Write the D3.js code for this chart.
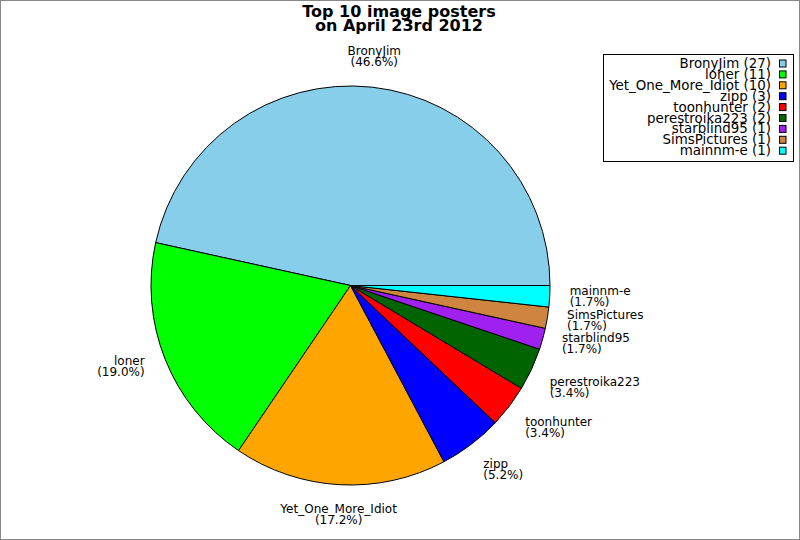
<!DOCTYPE html>
<html><head><meta charset="utf-8">
<script src="https://cdn.jsdelivr.net/npm/d3@7/dist/d3.min.js"></script>
<style>
html,body{margin:0;padding:0;background:#fff;}
svg{display:block;}
text{font-family:"DejaVu Sans",sans-serif;fill:#000;}
</style></head>
<body>
<svg id="chart" width="800" height="540"></svg>
<script>
const titleLines = ["Top 10 image posters", "on April 23rd 2012"];
const names = ["BronyJim","loner","Yet_One_More_Idiot","zipp","toonhunter","perestroika223","starblind95","SimsPictures","mainnm-e"];
const counts = [27,11,10,3,2,2,1,1,1];
const colors = ["#87ceeb","#00ff00","#ffa500","#0000ff","#ff0000","#006400","#a020f0","#cd853f","#00ffff"];

const svg = d3.select("#chart");
svg.append("rect").attr("x",0.5).attr("y",0.5).attr("width",799).attr("height",539)
  .attr("fill","#fff").attr("stroke","#888").attr("stroke-width",1);

// title
svg.append("text").attr("x",399).attr("y",16.5).attr("text-anchor","middle")
  .style("font-size","16px").style("font-weight","bold")
  .selectAll("tspan").data(titleLines).join("tspan")
  .attr("x",399).attr("dy",(d,i)=>i?14:0).text(d=>d);

const cx = 350.5, cy = 285.5, R = 199.5, LR = R*1.1;
const total = d3.sum(counts);
const data = names.map((n,i)=>({name:n,value:counts[i],color:colors[i]}));

// counter-clockwise from east
const pie = d3.pie().value(d=>d.value).sort(null)
  .startAngle(Math.PI/2).endAngle(Math.PI/2 - 2*Math.PI);
const arcs = pie(data);
const arc = d3.arc().innerRadius(0).outerRadius(R);

const g = svg.append("g").attr("transform",`translate(${cx},${cy})`);
g.selectAll("path").data(arcs).join("path")
  .attr("d",arc).attr("fill",d=>d.data.color)
  .attr("stroke","#000").attr("stroke-width",1).attr("stroke-linejoin","round");

// labels
const fmt = d3.format(".1f");
arcs.forEach(a=>{
  const mid = (a.startAngle + a.endAngle)/2;
  const x = Math.sin(mid)*LR, y = -Math.cos(mid)*LR;
  const c = Math.sin(mid);
  const anchor = Math.abs(c) < 0.2 ? "middle" : (c > 0 ? "start" : "end");
  const elev = Math.asin(Math.max(-1,Math.min(1,-y/LR)))*180/Math.PI;
  let b1;
  if (Math.abs(elev) < 23) b1 = y - 2;
  else if (elev < 0) b1 = y + 8;
  else b1 = y - 12;
  const t = g.append("text").attr("text-anchor",anchor).style("font-size","12px");
  const xx = anchor==="end" ? x-2 : x;
  t.append("tspan").attr("x",xx).attr("y",b1).text(a.data.name);
  t.append("tspan").attr("x",xx).attr("y",b1+11).text("(" + fmt(a.data.value/total*100) + "%)");
});

// legend
const leg = svg.append("g");
leg.append("rect").attr("x",603.5).attr("y",54.5).attr("width",190).attr("height",107)
  .attr("fill","#fff").attr("stroke","#000").attr("stroke-width",1);
const rowY = d3.scaleLinear().domain([0,1]).range([68,78.9]);
data.forEach((d,i)=>{
  leg.append("text").attr("x",771).attr("y",rowY(i)).attr("text-anchor","end")
    .style("font-size","13.4px").text(`${d.name} (${d.value})`);
  leg.append("rect").attr("x",779.5).attr("y",rowY(i)-8).attr("width",6.5).attr("height",7)
    .attr("fill",d.color).attr("stroke","#000").attr("stroke-width",1);
});
</script>
</body></html>
